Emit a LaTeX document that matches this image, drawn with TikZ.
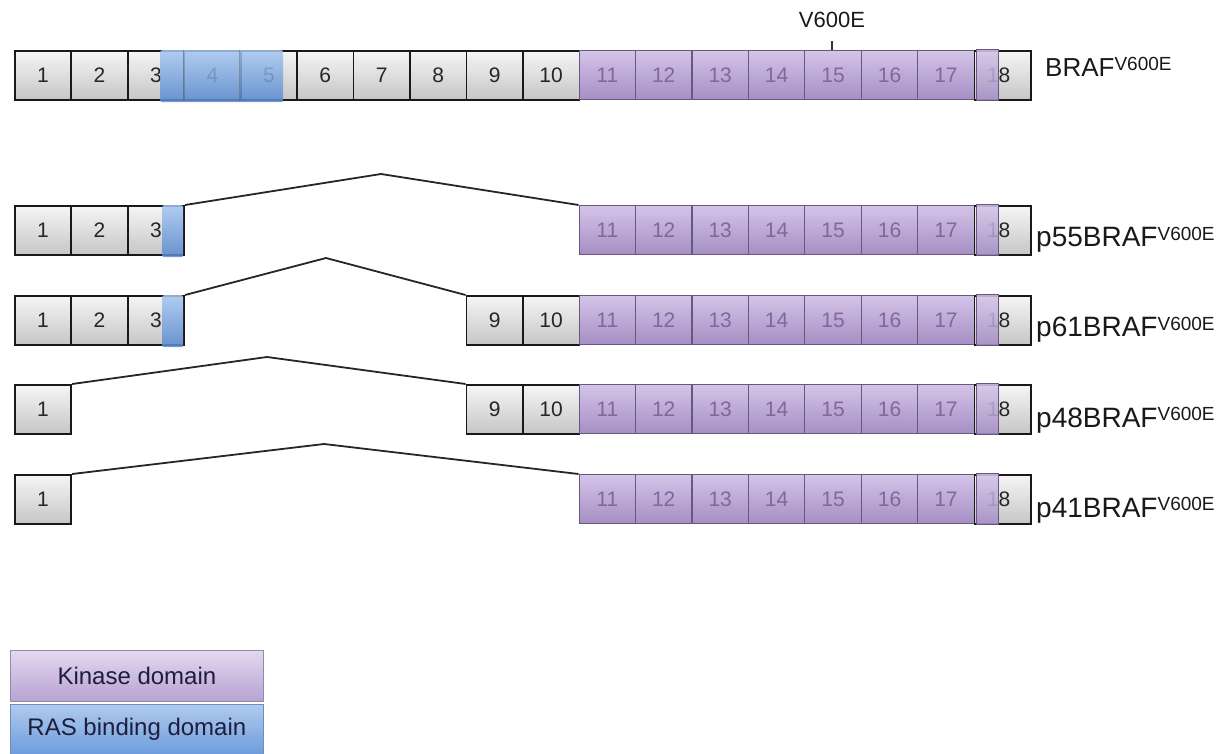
\documentclass[tikz,border=0pt]{standalone}
\usepackage{fontspec}
\setmainfont{Liberation Sans}
\definecolor{gtop}{RGB}{245,245,245}
\definecolor{gbot}{RGB}{198,198,198}
\definecolor{ptop}{RGB}{212,196,232}
\definecolor{pbot}{RGB}{165,142,196}
\definecolor{pline}{RGB}{105,88,125}
\definecolor{pnum}{RGB}{128,104,152}
\definecolor{btop}{RGB}{165,198,240}
\definecolor{bbot}{RGB}{88,138,208}
\definecolor{ktop}{RGB}{228,216,240}
\definecolor{kbot}{RGB}{182,162,210}
\definecolor{kline}{RGB}{150,135,172}
\definecolor{rtop}{RGB}{175,203,238}
\definecolor{rbot}{RGB}{110,156,220}
\definecolor{rline}{RGB}{110,140,190}
\definecolor{legtext}{RGB}{30,30,60}
\newcommand{\vsupx}{\raisebox{6.5pt}{\fontsize{19}{19}\selectfont V600E}}
\tikzset{
  exonbox/.style={draw=black!90, line width=1.7pt, top color=gtop, bottom color=gbot,
    minimum width=56.45pt, minimum height=49pt, inner sep=0pt, anchor=north west,
    font=\fontsize{21}{21}\selectfont, text=black!85},
  kinexon/.style={exonbox, draw=pline, line width=1.1pt, top color=ptop, bottom color=pbot, text=pnum},
  kintip/.style={draw=pline, line width=1.1pt, top color=ptop, bottom color=pbot, fill opacity=0.88,
    minimum height=50.6pt, minimum width=22.5pt, inner sep=0pt, anchor=north west},
  rasover/.style={draw=none, top color=btop, bottom color=bbot, rounded corners=2pt,
    fill opacity=0.85, inner sep=0pt, anchor=north west},
  rowlabel/.style={anchor=base west, inner sep=0pt, font=\fontsize{28}{28}\selectfont, text=black!90},
  splice/.style={draw=black!85, line width=1.8pt},
  legbox/.style={minimum width=253pt, inner sep=0pt, anchor=north west,
    font=\fontsize{24}{24}\selectfont, text=legtext},
}
\begin{document}
\begin{tikzpicture}[x=1pt,y=-1pt]
\useasboundingbox (0,0) rectangle (1227,754);
% exons
\foreach \r/\y/\l in {0/50/{1,2,3,4,5,6,7,8,9,10,11,12,13,14,15,16,17,18},
                      1/205/{1,2,3,11,12,13,14,15,16,17,18},
                      2/295/{1,2,3,9,10,11,12,13,14,15,16,17,18},
                      3/384/{1,9,10,11,12,13,14,15,16,17,18},
                      4/474/{1,11,12,13,14,15,16,17,18}}{
  \foreach \k in \l {
    \pgfmathsetmacro\xx{14+(\k-1)*56.45}
    \ifnum\k>10 \ifnum\k<18 \def\st{kinexon}\else\def\st{exonbox}\fi\else\def\st{exonbox}\fi
    \node[\st] (e\r-\k) at (\xx,\y) {\ifnum\k=18\kern-8pt\fi\k};
  }
  % kinase domain reaching into exon 18
  \node[kintip] (kt\r) at (975.7,\y-0.8) {};
}
% RAS binding domain overlays
\node[rasover, minimum width=123pt, minimum height=52pt] (ras0) at (160,50) {};
\draw[black!60, line width=0.8pt, opacity=0.5] (e0-4.north west) -- (e0-4.south west);
\draw[black!60, line width=0.8pt, opacity=0.5] (e0-5.north west) -- (e0-5.south west);
\node[rasover, minimum width=21pt, minimum height=52pt] (ras1) at (162,205) {};
\node[rasover, minimum width=21pt, minimum height=52pt] (ras2) at (162,295) {};
% splice connectors
\coordinate (pk1) at (381,174);
\coordinate (pk2) at (326,258);
\coordinate (pk3) at (267,357);
\coordinate (pk4) at (324,444);
\draw[splice] (e1-3.north east) -- (pk1) -- (e1-11.north west);
\draw[splice] (e2-3.north east) -- (pk2) -- (e2-9.north west);
\draw[splice] (e3-1.north east) -- (pk3) -- (e3-9.north west);
\draw[splice] (e4-1.north east) -- (pk4) -- (e4-11.north west);
% mutation mark
\node[anchor=base, inner sep=0pt, font=\fontsize{22}{22}\selectfont, text=black!90] (mut) at (832,28) {V600E};
\coordinate (tick) at (832,41);
\draw[black!80, line width=1.2pt] (tick) -- (tick |- e0-15.north);
% row labels
\node[rowlabel, font=\fontsize{26}{26}\selectfont] (l0) at (1045,77) {BRAF\vsupx};
\node[rowlabel] (l1) at (1036,247) {p55BRAF\vsupx};
\node[rowlabel] (l2) at (1036,337) {p61BRAF\vsupx};
\node[rowlabel] (l3) at (1036,427) {p48BRAF\vsupx};
\node[rowlabel] (l4) at (1036,517) {p41BRAF\vsupx};
% legend
\node[legbox, minimum height=51pt, draw=kline, line width=0.8pt, top color=ktop, bottom color=kbot] (legk) at (10,650) {Kinase domain};
\node[legbox, minimum height=50pt, draw=rline, line width=0.8pt, top color=rtop, bottom color=rbot] (legr) at (10,704) {RAS binding domain};
\end{tikzpicture}
\end{document}
